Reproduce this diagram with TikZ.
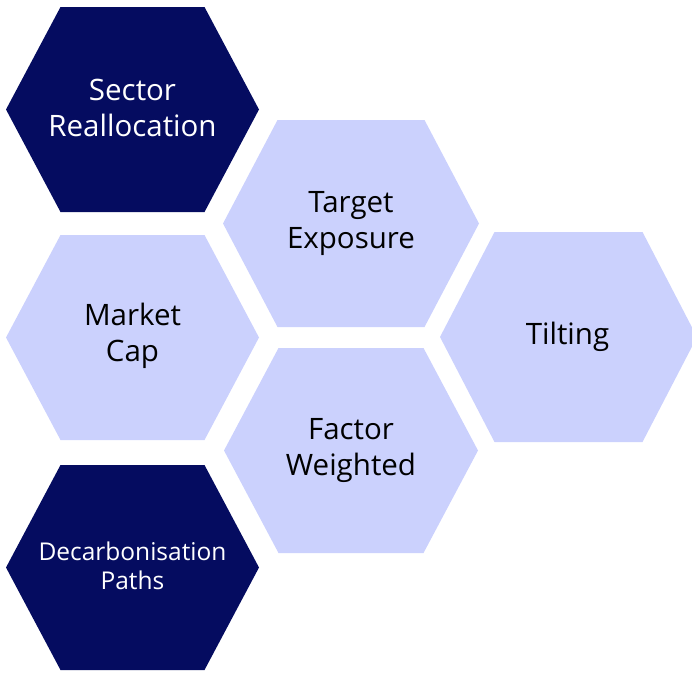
\documentclass[tikz,border=0pt]{standalone}
\usepackage{fontspec}
\setmainfont{Open Sans}
\usepackage{tikz}

\definecolor{navy}{RGB}{5,12,96}
\definecolor{lavender}{RGB}{203,209,253}

\tikzset{
    hexdark/.style={fill=navy},
    hexlight/.style={fill=lavender},
    darklabel/.style={text=white, align=center, font=\fontsize{29.5}{36}\selectfont},
    lightlabel/.style={text=black, align=center, font=\fontsize{29.5}{36}\selectfont}
}

\begin{document}
\begin{tikzpicture}[x=1pt,y=-1pt]
    \useasboundingbox (0,0) rectangle (692,672);
    \clip (0,0) rectangle (692,672);

    \coordinate (sector) at (132.5,109.5);
    \coordinate (market) at (132.5,337.5);
    \coordinate (decarb) at (132.5,567.5);
    \coordinate (target) at (351,223.5);
    \coordinate (factor) at (351,450.5);
    \coordinate (tilting) at (567.5,337);

    % hexagons
    \fill[hexdark](sector)++(-126.5,0)--++(54.5,-102.5)--++(144,0)--++(54.5,102.5)--++(-54.5,102.5)--++(-144,0)--cycle;
    \fill[hexlight](market)++(-126.5,0)--++(54.5,-102.5)--++(144,0)--++(54.5,102.5)--++(-54.5,102.5)--++(-144,0)--cycle;
    \fill[hexdark](decarb)++(-126.5,0)--++(54.5,-102.5)--++(144,0)--++(54.5,102.5)--++(-54.5,102.5)--++(-144,0)--cycle;
    \fill[hexlight](target)++(-128,0)--++(54.5,-103.5)--++(147,0)--++(54.5,103.5)--++(-54.5,103.5)--++(-147,0)--cycle;
    \fill[hexlight](factor)++(-127,0)--++(54.5,-102.5)--++(145,0)--++(54.5,102.5)--++(-54.5,102.5)--++(-145,0)--cycle;
    \fill[hexlight](tilting)++(-127.5,0)--++(54.5,-105)--++(148,0)--++(54.5,105)--++(-54.5,105)--++(-148,0)--cycle;

    \node[darklabel] (sectortext) at ([yshift=2]sector) {Sector\\Reallocation};
    \node[lightlabel] (markettext) at ([yshift=2]market) {Market\\Cap};
    \node[darklabel, font=\fontsize{24.5}{29}\selectfont] (decarbtext) at ([yshift=2]decarb) {Decarbonisation\\Paths};
    \node[lightlabel] (targettext) at (target) {Target\\Exposure};
    \node[lightlabel] (factortext) at (factor) {Factor\\Weighted};
    \node[lightlabel] (tiltingtext) at (tilting) {Tilting};
\end{tikzpicture}
\end{document}
